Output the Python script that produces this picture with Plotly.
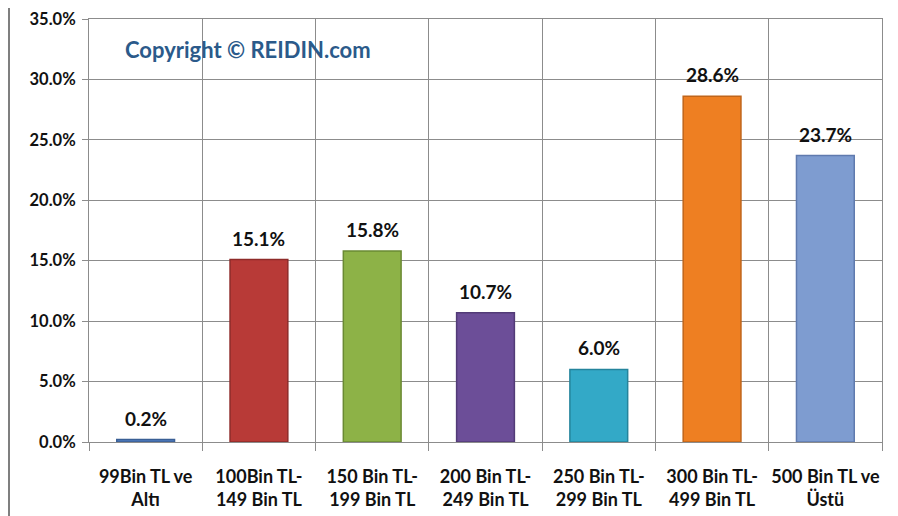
import plotly.graph_objects as go

categories = ["99Bin TL ve<br>Altı", "100Bin TL-<br>149 Bin TL", "150 Bin TL-<br>199 Bin TL",
              "200 Bin TL-<br>249 Bin TL", "250 Bin TL-<br>299 Bin TL", "300 Bin TL-<br>499 Bin TL",
              "500 Bin TL ve<br>Üstü"]
values = [0.2, 15.1, 15.8, 10.7, 6.0, 28.6, 23.7]
labels = ["0.2%", "15.1%", "15.8%", "10.7%", "6.0%", "28.6%", "23.7%"]
bar_colors = ["#4F7BBF", "#B83A37", "#8DB247", "#6C4E98", "#33A9C7", "#EE7F22", "#7E9CD0"]
edge_colors = ["#3A5F95", "#8E2B29", "#6A8A33", "#523B77", "#24849C", "#C0651A", "#5F7AAE"]
y_ticks = [0, 5, 10, 15, 20, 25, 30, 35]
y_tick_text = ["0.0%", "5.0%", "10.0%", "15.0%", "20.0%", "25.0%", "30.0%", "35.0%"]

font_family = "Lato, 'Open Sans', sans-serif"
x_bold = ["<b>%s</b>" % c for c in categories]

fig = go.Figure(go.Bar(
    x=x_bold, y=values,
    marker=dict(color=bar_colors, line=dict(color=edge_colors, width=1.5)),
    width=0.51,
))

for xc, v, lab in zip(x_bold, values, labels):
    fig.add_annotation(x=xc, y=v, text="<b>%s</b>" % lab, showarrow=False,
                       yanchor="bottom", yshift=8,
                       font=dict(family=font_family, size=19, color="#111111"))

fig.update_layout(
    width=890, height=508,
    margin=dict(l=81, r=16, t=11, b=74),
    paper_bgcolor="white", plot_bgcolor="white",
    showlegend=False,
    font=dict(family=font_family, size=18, color="#111111"),
)
fig.update_yaxes(
    range=[0, 35], tickvals=y_ticks, ticktext=["<b>%s</b>" % t for t in y_tick_text],
    showgrid=True, gridcolor="#8C8C8C", gridwidth=1,
    showline=True, linecolor="#8C8C8C", linewidth=1, mirror=True,
    ticks="outside", ticklen=6, tickcolor="#8C8C8C",
    tickfont=dict(family=font_family, size=16.5, color="#111111"),
    zeroline=False, automargin=False, ticklabelstandoff=3,
    ticklabeloverflow="allow",
)
fig.update_xaxes(
    tickson="boundaries", showgrid=True, gridcolor="#8C8C8C", gridwidth=1,
    showline=True, linecolor="#8C8C8C", linewidth=1, mirror=True,
    ticks="outside", ticklen=8, tickcolor="#8C8C8C",
    tickfont=dict(family=font_family, size=18, color="#111111"),
    tickangle=0, automargin=False, ticklabelstandoff=18,
    ticklabeloverflow="allow",
)
fig.add_annotation(
    text="<b>Copyright © REIDIN.com</b>", xref="paper", yref="paper",
    x=0.043, y=0.927, xanchor="left", yanchor="middle", showarrow=False,
    font=dict(family=font_family, size=22, color="#2B5A8A"),
)
fig.add_shape(type="line", xref="paper", yref="paper", x0=-80/793, x1=-80/793, y0=-0.2, y1=1.05,
              line=dict(color="#555555", width=1.5))

fig.write_html("out.html")
